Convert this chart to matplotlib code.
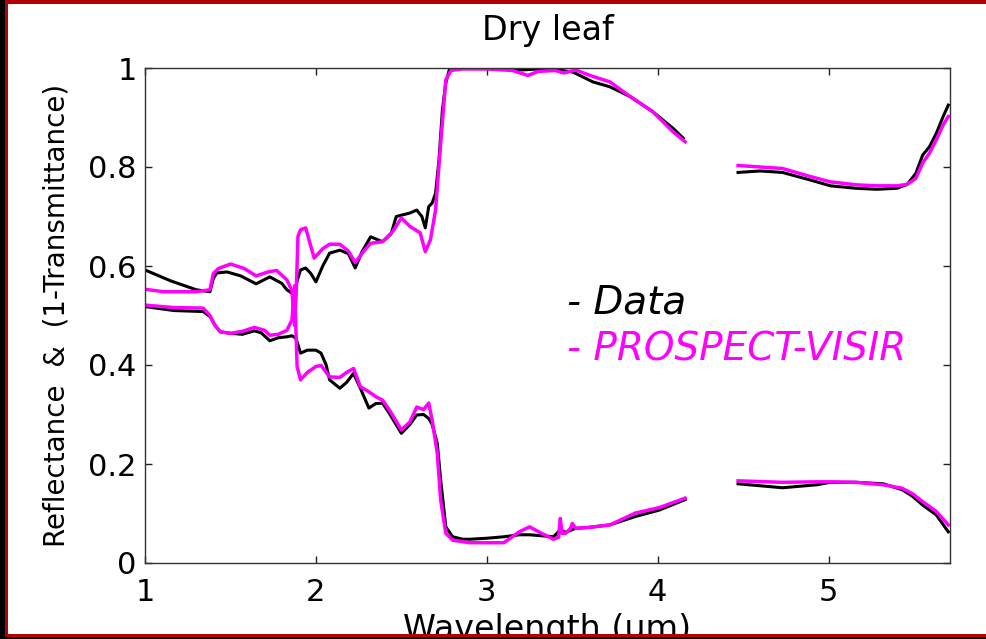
import numpy as np
import matplotlib
matplotlib.use("Agg")
import matplotlib.pyplot as plt
from matplotlib.patches import Rectangle

plt.rcParams["font.family"] = ["DejaVu Sans"]

nan = np.nan

# ==========================
# data (gap 4.16-4.47 um)
# ==========================

# measured 1 - transmittance
wl_data_t = [1.00, 1.15, 1.30, 1.38, 1.40, 1.42, 1.48, 1.56, 1.65, 1.73, 1.80, 1.83, 1.86, 1.87,
             1.89, 1.91, 1.94, 1.97, 2.00, 2.04, 2.08, 2.14, 2.19, 2.23, 2.27, 2.32, 2.39, 2.44,
             2.47, 2.55, 2.59, 2.62, 2.64, 2.66, 2.68, 2.70, 2.72, 2.74, 2.76, 2.78, 2.82, 2.90,
             3.00, 3.10, 3.20, 3.30, 3.40, 3.50, 3.52, 3.62, 3.72, 3.84, 3.97, 4.09, 4.15, nan,
             4.47, 4.60, 4.73, 4.89, 5.01, 5.16, 5.28, 5.40, 5.46, 5.51, 5.55, 5.59, 5.63, 5.67, 5.70]
data_t = [0.592, 0.570, 0.552, 0.548, 0.575, 0.586, 0.588, 0.580, 0.564, 0.578, 0.565, 0.552, 0.545, 0.531,
          0.570, 0.592, 0.596, 0.585, 0.568, 0.600, 0.626, 0.632, 0.625, 0.596, 0.629, 0.659, 0.649, 0.665,
          0.700, 0.707, 0.713, 0.700, 0.677, 0.720, 0.727, 0.747, 0.814, 0.915, 0.970, 0.996, 1.000, 1.000,
          1.000, 0.998, 0.996, 0.998, 0.997, 0.992, 0.989, 0.972, 0.962, 0.942, 0.912, 0.878, 0.858, nan,
          0.789, 0.792, 0.789, 0.774, 0.762, 0.757, 0.755, 0.757, 0.765, 0.787, 0.824, 0.841, 0.868, 0.902, 0.925]

# model 1 - transmittance
wl_model_t = [1.00, 1.11, 1.30, 1.38, 1.40, 1.43, 1.50, 1.58, 1.65, 1.72, 1.77, 1.83, 1.86, 1.875,
              1.885, 1.895, 1.91, 1.94, 1.97, 1.99, 2.04, 2.08, 2.14, 2.19, 2.23, 2.28, 2.32, 2.39,
              2.45, 2.50, 2.55, 2.61, 2.64, 2.67, 2.70, 2.73, 2.76, 2.79, 2.85, 3.00, 3.15, 3.24,
              3.30, 3.40, 3.45, 3.52, 3.62, 3.72, 3.84, 3.97, 4.09, 4.16, nan,
              4.47, 4.73, 4.89, 5.01, 5.16, 5.28, 5.40, 5.46, 5.51, 5.55, 5.59, 5.63, 5.67, 5.70]
model_t = [0.553, 0.548, 0.548, 0.552, 0.585, 0.595, 0.604, 0.595, 0.580, 0.588, 0.591, 0.572, 0.550, 0.480,
           0.550, 0.660, 0.673, 0.677, 0.640, 0.616, 0.635, 0.644, 0.644, 0.630, 0.607, 0.630, 0.646, 0.649,
           0.670, 0.697, 0.680, 0.667, 0.629, 0.653, 0.713, 0.848, 0.976, 0.995, 0.998, 0.998, 0.995, 0.985,
           0.993, 0.995, 0.990, 0.996, 0.983, 0.972, 0.942, 0.912, 0.871, 0.851, nan,
           0.803, 0.797, 0.781, 0.770, 0.764, 0.762, 0.762, 0.765, 0.777, 0.808, 0.828, 0.855, 0.885, 0.902]

# measured reflectance
wl_data_r = [1.00, 1.17, 1.34, 1.38, 1.41, 1.44, 1.50, 1.57, 1.64, 1.68, 1.73, 1.78, 1.83, 1.86,
             1.88, 1.89, 1.91, 1.95, 2.00, 2.03, 2.06, 2.08, 2.14, 2.18, 2.22, 2.26, 2.31, 2.35,
             2.39, 2.43, 2.50, 2.55, 2.59, 2.63, 2.66, 2.68, 2.71, 2.73, 2.76, 2.80, 2.86, 2.90,
             3.00, 3.10, 3.19, 3.25, 3.32, 3.39, 3.43, 3.46, 3.52, 3.60, 3.72, 3.87, 4.01, 4.16, nan,
             4.47, 4.60, 4.73, 4.93, 5.01, 5.16, 5.32, 5.43, 5.49, 5.55, 5.63, 5.70]
data_r = [0.518, 0.510, 0.508, 0.498, 0.480, 0.467, 0.464, 0.462, 0.469, 0.465, 0.449, 0.455, 0.457, 0.459,
          0.455, 0.447, 0.424, 0.430, 0.430, 0.424, 0.400, 0.370, 0.353, 0.365, 0.383, 0.353, 0.313, 0.322,
          0.323, 0.302, 0.262, 0.280, 0.299, 0.300, 0.292, 0.280, 0.242, 0.168, 0.073, 0.053, 0.048, 0.048,
          0.050, 0.053, 0.057, 0.057, 0.055, 0.053, 0.067, 0.062, 0.070, 0.072, 0.077, 0.094, 0.107, 0.128, nan,
          0.160, 0.156, 0.152, 0.158, 0.163, 0.163, 0.160, 0.148, 0.135, 0.117, 0.097, 0.063]

# model reflectance
wl_model_r = [1.00, 1.17, 1.34, 1.38, 1.41, 1.44, 1.50, 1.57, 1.64, 1.70, 1.73, 1.78, 1.83, 1.86,
              1.875, 1.885, 1.89, 1.91, 1.95, 2.00, 2.03, 2.08, 2.14, 2.18, 2.22, 2.26, 2.31, 2.35,
              2.39, 2.43, 2.50, 2.55, 2.59, 2.63, 2.66, 2.68, 2.71, 2.73, 2.76, 2.80, 2.86, 2.90,
              3.00, 3.10, 3.19, 3.25, 3.32, 3.39, 3.42, 3.43, 3.44, 3.46, 3.49, 3.50, 3.52, 3.60,
              3.72, 3.87, 4.01, 4.16, nan,
              4.47, 4.73, 4.93, 5.01, 5.16, 5.32, 5.43, 5.49, 5.55, 5.63, 5.70]
model_r = [0.521, 0.516, 0.515, 0.500, 0.480, 0.467, 0.464, 0.468, 0.476, 0.470, 0.460, 0.462, 0.470, 0.491,
           0.560, 0.450, 0.397, 0.370, 0.385, 0.397, 0.399, 0.376, 0.375, 0.385, 0.393, 0.356, 0.346, 0.336,
           0.329, 0.309, 0.269, 0.285, 0.315, 0.310, 0.323, 0.289, 0.222, 0.127, 0.060, 0.046, 0.043, 0.041,
           0.041, 0.041, 0.063, 0.073, 0.060, 0.048, 0.052, 0.090, 0.060, 0.060, 0.070, 0.080, 0.070, 0.072,
           0.077, 0.101, 0.112, 0.131, nan,
           0.166, 0.163, 0.164, 0.164, 0.163, 0.158, 0.151, 0.140, 0.124, 0.104, 0.077]

x_ticks = [1, 2, 3, 4, 5]
y_ticks = [0, 0.2, 0.4, 0.6, 0.8, 1]
y_tick_labels = ["0", "0.2", "0.4", "0.6", "0.8", "1"]

MAGENTA = "#ff00ff"
RED = "#b40000"

# ==========================
# figure
# ==========================

W, H = 986, 639
fig = plt.figure(figsize=(W / 100, H / 100), dpi=100, facecolor="white")
ax = fig.add_axes([145 / W, 1 - 563 / H, 805 / W, 495 / H])

ax.plot(wl_data_t, data_t, color="black", lw=2.2)
ax.plot(wl_data_r, data_r, color="black", lw=2.2)
ax.plot(wl_model_t, model_t, color=MAGENTA, lw=2.5)
ax.plot(wl_model_r, model_r, color=MAGENTA, lw=2.5)

ax.set_xlim(1, 5.71)
ax.set_ylim(0, 1)
ax.set_xticks(x_ticks)
ax.set_yticks(y_ticks)
ax.set_yticklabels(y_tick_labels)

ax.tick_params(axis="both", direction="in", top=True, right=True,
               length=5, width=1, colors="#222222", labelcolor="black")
ax.tick_params(axis="x", labelsize=22, pad=11)
ax.tick_params(axis="y", labelsize=22, pad=6)
for s in ax.spines.values():
    s.set_color("#333333")
    s.set_linewidth(1.0)

ax.set_title("Dry leaf", fontsize=24, pad=20)
ax.set_xlabel("Wavelength (um)", fontsize=24, labelpad=4)
ax.set_ylabel("Reflectance  &  (1-Transmittance)", fontsize=20, labelpad=13)

ax.text(3.47, 0.505, "- Data", fontsize=28, style="italic", color="black")
ax.text(3.47, 0.410, "- PROSPECT-VISIR", fontsize=28, style="italic", color=MAGENTA)

# ==========================
# outer frame (black margin + red border)
# ==========================

def px_rect(x0, y0, x1, y1, color):
    r = Rectangle((x0 / W, 1 - y1 / H), (x1 - x0) / W, (y1 - y0) / H,
                  transform=fig.transFigure, color=color, zorder=20, lw=0)
    fig.add_artist(r)

px_rect(0, 0, 5, H, "black")
px_rect(5, 4, 8, 637, RED)
px_rect(5, 0, W, 4, RED)
px_rect(5, 634, W, 637, RED)
px_rect(0, 637, W, H, "black")

fig.savefig("out.png", dpi=100, facecolor="white")
plt.close(fig)
